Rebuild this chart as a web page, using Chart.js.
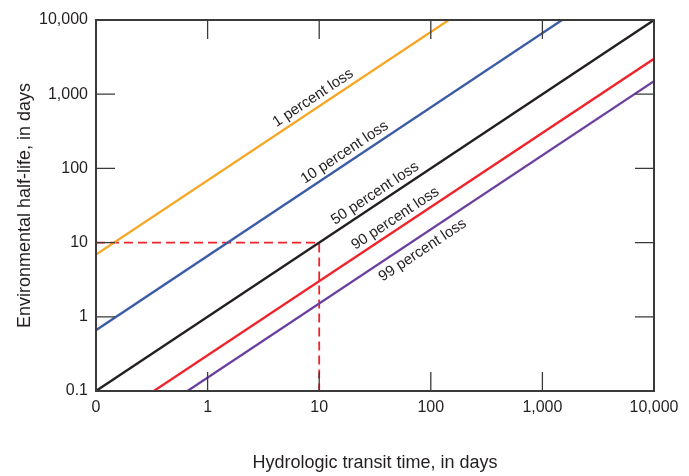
<!DOCTYPE html>
<html>
<head>
<meta charset="utf-8">
<script src="https://cdn.jsdelivr.net/npm/chart.js@4.4.1/dist/chart.umd.min.js"></script>
<style>
  body { margin: 0; background: #fff; }
  #wrap { width: 689px; height: 476px; }
</style>
</head>
<body>
<div id="wrap"><canvas id="halfLife"></canvas></div>
<script>
// lines of equal loss, each drawn from its two end points (log-log, so straight)
var lossLabels = ["1 percent loss", "10 percent loss", "50 percent loss", "90 percent loss", "99 percent loss"];
var transitStart = [0.1, 0.1, 0.1, 0.33, 0.66];
var halfLifeStart = [6.9, 0.66, 0.1, 0.1, 0.1];
var transitEnd = [145, 1500, 10000, 10000, 10000];
var halfLifeEnd = [10000, 10000, 10000, 3000, 1500];

// example read-off: 10 days transit, 10 days half-life
var exampleTransit = [0.1, 10, 10];
var exampleHalfLife = [10, 10, 0.1];

var tickValues = [0.1, 1, 10, 100, 1000, 10000];

var lossColors = ["#f6a623", "#3b5ba9", "#231f20", "#f0232a", "#6b3fa0"];
var textColor = "#231f20";
var fontFamily = "'Liberation Sans', Arial, sans-serif";

var datasets = lossLabels.map(function (name, i) {
    return {
        label: name,
        data: [
            { x: transitStart[i], y: halfLifeStart[i] },
            { x: transitEnd[i], y: halfLifeEnd[i] },
        ],
        borderColor: lossColors[i],
        borderWidth: 2.3,
        showLine: true,
        pointRadius: 0,
    };
});
datasets.push({
    label: "example",
    data: exampleTransit.map(function (t, i) {
        return { x: t, y: exampleHalfLife[i] };
    }),
    borderColor: "#f0232a",
    borderWidth: 1.8,
    borderDash: [9, 5],
    showLine: true,
    pointRadius: 0,
});

// box round the plot with inward tick marks on all four sides
var frameTicks = {
    id: "frameTicks",
    afterDatasetsDraw(chart) {
        var ctx = chart.ctx, a = chart.chartArea;
        var x = chart.scales.x, y = chart.scales.y;
        ctx.save();
        ctx.strokeStyle = "#3a3a3a";
        ctx.lineWidth = 1.3;
        ctx.beginPath();
        tickValues.forEach(function (v) {
            var px = x.getPixelForValue(v), py = y.getPixelForValue(v);
            ctx.moveTo(px, a.bottom); ctx.lineTo(px, a.bottom - 19);
            ctx.moveTo(px, a.top); ctx.lineTo(px, a.top + 19);
            ctx.moveTo(a.left, py); ctx.lineTo(a.left + 19, py);
            ctx.moveTo(a.right, py); ctx.lineTo(a.right - 19, py);
        });
        ctx.stroke();
        ctx.lineWidth = 2;
        ctx.strokeRect(a.left, a.top, a.right - a.left, a.bottom - a.top);
        ctx.restore();
    },
};

// text laid along each line
var lineLabels = {
    id: "lineLabels",
    afterDatasetsDraw(chart, args, opts) {
        var ctx = chart.ctx;
        var x = chart.scales.x, y = chart.scales.y;
        ctx.save();
        ctx.font = "15px " + fontFamily;
        ctx.fillStyle = textColor;
        ctx.textAlign = "center";
        ctx.textBaseline = "alphabetic";
        lossLabels.forEach(function (txt, i) {
            var x0 = x.getPixelForValue(transitStart[i]), y0 = y.getPixelForValue(halfLifeStart[i]);
            var x1 = x.getPixelForValue(transitEnd[i]), y1 = y.getPixelForValue(halfLifeEnd[i]);
            var px = x.getPixelForValue(opts.at[i]);
            var py = y0 + (y1 - y0) * (px - x0) / (x1 - x0);
            ctx.save();
            ctx.translate(px, py);
            ctx.rotate(Math.atan2(y1 - y0, x1 - x0));
            ctx.fillText(txt, 0, -opts.gap[i]);
            ctx.restore();
        });
        ctx.restore();
    },
};

function setTicks(scale) {
    scale.ticks = tickValues.map(function (v) {
        return { value: v };
    });
}

var ctx = document.getElementById("halfLife");
var chart = new Chart(ctx, {
    type: "scatter",
    data: { datasets: datasets },
    plugins: [frameTicks, lineLabels],
    options: {
        responsive: true,
        maintainAspectRatio: false,
        animation: false,
        layout: {
            padding: { top: 20, right: 35, left: 0, bottom: 0 },
        },
        plugins: {
            legend: { display: false },
            tooltip: { enabled: false },
            lineLabels: {
                at: [9.9, 19, 35.5, 54, 73],
                gap: [6, 6, 6, 6, -17],
            },
        },
        scales: {
            x: {
                type: "logarithmic",
                min: 0.1,
                max: 10000,
                afterBuildTicks: setTicks,
                afterFit: function (s) { s.height = 85; },
                grid: { display: false, drawTicks: false },
                border: { display: false },
                ticks: {
                    padding: 7,
                    color: textColor,
                    maxRotation: 0,
                    autoSkip: false,
                    font: { family: fontFamily, size: 16 },
                    callback: function (v) {
                        return v === 0.1 ? "0" : Number(v).toLocaleString("en-US");
                    },
                },
                title: {
                    display: true,
                    text: "Hydrologic transit time, in days",
                    color: textColor,
                    font: { family: fontFamily, size: 18 },
                    padding: { top: 0, bottom: 2 },
                },
            },
            y: {
                type: "logarithmic",
                min: 0.1,
                max: 10000,
                afterBuildTicks: setTicks,
                afterFit: function (s) { s.width = 96; },
                grid: { display: false, drawTicks: false },
                border: { display: false },
                ticks: {
                    padding: 8,
                    color: textColor,
                    autoSkip: false,
                    font: { family: fontFamily, size: 16 },
                    callback: function (v) {
                        return v === 0.1 ? "0.1" : Number(v).toLocaleString("en-US");
                    },
                },
                title: {
                    display: true,
                    text: "Environmental half-life, in days",
                    color: textColor,
                    font: { family: fontFamily, size: 18 },
                    padding: { top: 14, bottom: 0 },
                },
            },
        },
    },
});
</script>
</body>
</html>
